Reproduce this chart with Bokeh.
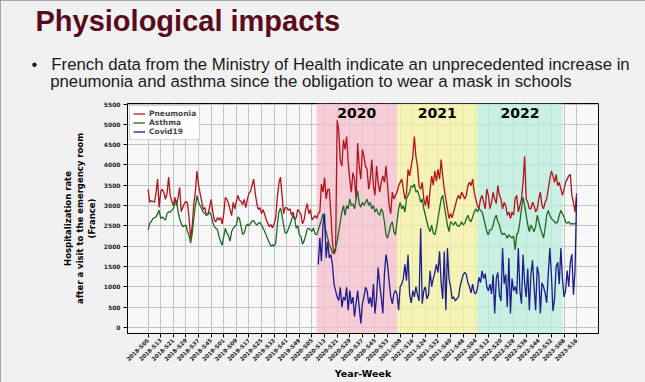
import math
from bokeh.plotting import figure
from bokeh.models import FixedTicker, Label, BoxAnnotation, Range1d, Title
from bokeh.embed import file_html
from bokeh.resources import INLINE

# ---------------- data (weekly, 2018-S05 .. 2023-S16) ----------------
tick_labels = ["2018-S05", "2018-S13", "2018-S21", "2018-S29", "2018-S37", "2018-S45",
               "2019-S01", "2019-S09", "2019-S17", "2019-S25", "2019-S33", "2019-S41", "2019-S49",
               "2020-S05", "2020-S13", "2020-S21", "2020-S29", "2020-S37", "2020-S45", "2020-S53",
               "2021-S08", "2021-S16", "2021-S24", "2021-S32", "2021-S40", "2021-S48",
               "2022-S04", "2022-S12", "2022-S20", "2022-S28", "2022-S36", "2022-S44", "2022-S52",
               "2023-S08", "2023-S16"]

pneumonia = [3400, 3080, 3120, 3100, 3080, 3300, 3650, 2950, 3350, 3400,
             3320, 3150, 3300, 3700, 3250, 3100, 3000, 3200, 3000, 3200,
             3450, 2850, 2950, 3050, 3100, 3050, 2700, 2200, 2500, 3050,
             3350, 3850, 3500, 3300, 3100, 2900, 2950, 2750, 2800, 2950,
             3150, 2850, 2650, 2600, 2700, 2650, 2700, 2550, 2800, 3200,
             3150, 3050, 2900, 2750, 3080, 2920, 3100, 3250, 3130, 3100,
             3020, 3150, 2950, 3150, 3300, 3350, 3500, 3650, 3300, 3050,
             2900, 2950, 2800, 2900, 2780, 2650, 2560, 2480, 2530, 2450,
             2550, 2700, 3200, 3550, 3700, 3250, 2800, 2950, 2950, 2880,
             2920, 2760, 2840, 2650, 2700, 2900, 2850, 2780, 2550, 2650,
             2900, 3050, 2800, 2900, 2650, 2700, 2750, 2680, 2800, 2840,
             3530, 3330, 3690, 3165, 3400, 3400, 2800, 2100, 1800, 1900,
             5100, 4850, 4100, 3970, 4620, 4380, 4700, 4050, 3650, 3330,
             3810, 3650, 3160, 4540, 3970, 3650, 4380, 4200, 3970, 3890,
             3400, 3650, 4130, 3490, 3250, 3970, 3570, 3330, 3570, 3730,
             3570, 3970, 3490, 3000, 2800, 3330, 3160, 3250, 3330, 3490,
             3570, 3650, 3410, 3160, 3300, 3890, 3730, 3970, 4200, 4700,
             4210, 3970, 3490, 3400, 3570, 3160, 3000, 3250, 2920, 3400,
             3730, 3500, 3850, 3600, 3890, 3650, 4130, 3730, 3400, 3160,
             2920, 2680, 2800, 2700, 2850, 3000, 3160, 3250, 3160, 3330,
             3250, 3160, 3250, 3490, 3570, 3490, 3650, 3330, 3160, 3000,
             2920, 3160, 3250, 3080, 2920, 3410, 3250, 2920, 3080, 3330,
             3160, 3050, 3490, 3250, 3160, 2920, 3080, 3000, 2760, 2840,
             2680, 2840, 2760, 3160, 3250, 2840, 3000, 3160, 3570, 4210,
             3160, 3080, 2920, 2920, 3080, 3000, 2840, 2920, 3160, 3330,
             3000, 2920, 3080, 3160, 3410, 3650, 3850, 3730, 3570, 3770,
             3490, 3570, 3410, 3250, 3400, 3570, 3650, 3730, 3770, 3250,
             3080, 2840, 3300]

asthma = [2400, 2560, 2600, 2680, 2700, 2720, 2800, 2880, 2680, 2720,
          2680, 2640, 2800, 2840, 2840, 2880, 2920, 3080, 3120, 2840,
          2680, 2560, 2480, 2500, 2520, 2360, 2260, 2075, 2320, 2680,
          3000, 3245, 3080, 3000, 2920, 2840, 2800, 2760, 2780, 2840,
          2760, 2600, 2480, 2440, 2400, 2240, 2120, 2020, 2240, 2440,
          2320, 2260, 2120, 2358, 2440, 2480, 2520, 2720, 2680, 2480,
          2290, 2320, 2480, 2540, 2500, 2560, 2620, 2630, 2560, 2520,
          2560, 2580, 2520, 2440, 2360, 2260, 2170, 2075, 1995, 2035,
          1995, 2075, 2520, 2840, 2940, 2760, 2520, 2320, 2320, 2420,
          2520, 2640, 2760, 2680, 2440, 2500, 2277, 2237, 2050, 2130,
          2260, 2420, 2440, 2400, 2360, 2450, 2300, 2280, 2400, 2520,
          2640, 2800, 2520, 2357, 2196, 2035, 1954, 1830, 1870, 1950,
          2115, 2357, 2600, 2840, 3000, 2760, 3000, 2920, 3160, 3000,
          3040, 2920, 3160, 3360, 3040, 2960, 3080, 3000, 3080, 3160,
          3000, 3080, 2920, 3000, 2840, 2920, 2800, 2760, 2920, 2840,
          2600, 2277, 2196, 2357, 2520, 2600, 2357, 2277, 2600, 2920,
          3080, 2920, 3000, 2840, 3160, 3250, 3330, 3490, 3450, 3530,
          3330, 3370, 3250, 3080, 3160, 2920, 2760, 2600, 2440, 2357,
          2520, 2320, 2277, 2440, 2680, 2920, 3160, 3250, 3000, 2760,
          2520, 2357, 2600, 2560, 2520, 2600, 2520, 2480, 2520, 2600,
          2520, 2560, 2680, 2760, 2640, 2600, 2720, 2840, 2920, 2840,
          2920, 2880, 2840, 2700, 2520, 2357, 2277, 2400, 2400, 2520,
          2680, 2760, 2600, 2520, 2357, 2277, 2320, 2277, 2196, 2277,
          2236, 2196, 2250, 1914, 2277, 2357, 2600, 2920, 3205, 3000,
          2760, 2520, 2357, 2520, 2440, 2357, 2480, 2760, 2600, 2440,
          2320, 2196, 2440, 2760, 2880, 2760, 2680, 2640, 2600, 2560,
          2600, 2760, 2880, 2800, 2720, 2600, 2560, 2600, 2540, 2560,
          2540, 2560, 2540]

covid_first_week = 108  # index of 2020-S09 in the weekly series
covid19 = [1550, 2200, 1630, 2520, 2800, 1710, 2115, 1710, 1790, 1550,
           1065, 905, 745, 664, 985, 500, 745, 664, 985, 420,
           905, 580, 745, 260, 580, 905, 500, 98, 580, 745,
           985, 905, 580, 745, 500, 1065, 340, 745, 1470, 1065,
           745, 340, 1310, 1790, 1550, 1147, 745, 580, 825, 905,
           825, 420, 1000, 1065, 1200, 1550, 1150, 1790, 800, 600,
           900, 750, 1000, 800, 650, 2440, 580, 900, 1000, 700,
           800, 1390, 1000, 1200, 1350, 1550, 1350, 1870, 1100, 700,
           1870, 420, 1950, 1200, 1000, 700, 750, 650, 700, 750,
           1000, 1150, 1300, 1350, 1300, 1100, 1000, 850, 1065, 850,
           825, 950, 1230, 1100, 1390, 1200, 1320, 1000, 900, 1065,
           825, 1300, 340, 1200, 1350, 800, 650, 1950, 1065, 1300,
           500, 1710, 340, 1200, 900, 1000, 820, 1950, 900, 580,
           1790, 1100, 745, 1450, 420, 1300, 1650, 1000, 420, 1500,
           1300, 340, 1100, 1000, 850, 600, 1300, 1950, 1300, 400,
           700, 1500, 1600, 1065, 1950, 1200, 750, 900, 1400, 1000,
           1600, 1800, 800, 1400, 3200]

period_labels = ["2020", "2021", "2022"]
period_start_week = [107, 158, 209]
period_end_week = [158, 209, 263]
period_colors = ["#f6bfcb", "#f5f2a0", "#b8eedc"]

y_ticks = [0, 500, 1000, 1500, 2000, 2500, 3000, 3500, 4000, 4500, 5000, 5500]

slide_title = "Physiological impacts"
bullet_line1 = "French data from the Ministry of Health indicate an unprecedented increase in"
bullet_line2 = "pneumonia and asthma since the obligation to wear a mask in schools"

# ---------------- figure ----------------
x_weeks = list(range(len(pneumonia)))
x_covid = list(range(covid_first_week, covid_first_week + len(covid19)))
x_ticks = list(range(0, 8 * len(tick_labels), 8))

FRAME_LEFT = 127
p = figure(width=645, height=382, output_backend="svg", toolbar_location=None,
           x_range=Range1d(-13.1, 285.9), y_range=Range1d(-152, 5513),
           min_border_left=FRAME_LEFT, min_border_right=47, min_border_top=103,
           min_border_bottom=45)
p.styles = {"outline": "2px solid #8c8c8c", "outline-offset": "-2px"}

p.border_fill_color = "#f1f1f1"
p.background_fill_color = "#f8f8f8"
p.outline_line_color = "black"
p.outline_line_width = 1

for s, e, c in zip(period_start_week, period_end_week, period_colors):
    p.add_layout(BoxAnnotation(left=s, right=e, fill_color=c, fill_alpha=0.75,
                               line_alpha=0, level="underlay"))

p.line(x_weeks, pneumonia, color="#b3141c", line_width=1.3, legend_label="Pneumonia")
p.line(x_weeks, asthma, color="#1d6a25", line_width=1.3, legend_label="Asthma")
p.line(x_covid, covid19, color="#1c1c8c", line_width=1.3, legend_label="Covid19")

for lab, s, e in zip(period_labels, period_start_week, period_end_week):
    p.add_layout(Label(x=(s + e) / 2, y=5290, text=lab, text_align="center",
                       text_baseline="middle", text_font="DejaVu Sans",
                       text_font_style="bold", text_font_size="14px", text_color="black"))

p.xaxis.ticker = FixedTicker(ticks=x_ticks)
p.xaxis.major_label_overrides = {t: l for t, l in zip(x_ticks, tick_labels)}
p.xaxis.major_label_orientation = math.pi / 4
p.xaxis.major_label_text_font = "DejaVu Sans"
p.xaxis.major_label_text_font_size = "5.5px"
p.xaxis.major_label_text_font_style = "bold"
p.xaxis.major_label_text_color = "#222222"
p.yaxis.ticker = FixedTicker(ticks=y_ticks)
p.yaxis.major_label_text_font = "DejaVu Sans"
p.yaxis.major_label_text_font_size = "6px"
p.yaxis.major_label_text_font_style = "bold"
p.yaxis.major_label_text_color = "#222222"
p.yaxis.major_label_standoff = 3
p.xaxis.major_label_standoff = 2
for ax in (p.xaxis, p.yaxis):
    ax.axis_line_color = "black"
    ax.major_tick_line_color = "black"
    ax.major_tick_out = 4
    ax.major_tick_in = 0
    ax.minor_tick_line_color = None

p.yaxis.axis_label = "Hospitalization rate\nafter a visit to the emergency room\n(France)"
p.yaxis.axis_label_text_font = "DejaVu Sans"
p.yaxis.axis_label_text_font_style = "bold"
p.yaxis.axis_label_text_font_size = "8.5px"
p.yaxis.axis_label_text_color = "black"
p.yaxis.axis_label_standoff = 4

p.xaxis.axis_label = "Year-Week"
p.xaxis.axis_label_text_font = "DejaVu Sans"
p.xaxis.axis_label_text_font_style = "bold"
p.xaxis.axis_label_text_font_size = "9.5px"
p.xaxis.axis_label_text_color = "black"
p.xaxis.axis_label_standoff = 1

p.xgrid.ticker = FixedTicker(ticks=x_ticks)
p.ygrid.ticker = FixedTicker(ticks=y_ticks)
p.grid.grid_line_color = "#c4c4c4"
p.grid.grid_line_width = 1

p.legend.location = "top_left"
p.legend.margin = 2
p.legend.padding = 3
p.legend.spacing = 0
p.legend.label_height = 9
p.legend.glyph_height = 9
p.legend.glyph_width = 12
p.legend.label_text_font = "DejaVu Sans"
p.legend.label_text_font_style = "bold"
p.legend.label_text_font_size = "7.5px"
p.legend.label_standoff = 4
p.legend.border_line_color = "#aaaaaa"
p.legend.background_fill_color = "white"
p.legend.background_fill_alpha = 0.9

# slide texts, stacked above the chart (nearest first)
bullet_text = ("\u2022\u00a0\u00a0\u00a0" + bullet_line1 + "\n"
               + "\u00a0\u00a0\u00a0\u00a0" + bullet_line2)
p.add_layout(Title(text=bullet_text, align="left", offset=31 - FRAME_LEFT,
                   text_font="Liberation Sans", text_font_size="16.8px",
                   text_font_style="normal", text_color="#1a1a1a",
                   text_line_height=0.9, standoff=25.5), "above")
p.add_layout(Title(text=slide_title, align="left", offset=35 - FRAME_LEFT,
                   text_font="Liberation Sans", text_font_size="29px",
                   text_font_style="bold", text_color="#5a0c1e",
                   text_line_height=0.8, standoff=5), "above")

open("out.html", "w").write(file_html(p, INLINE))
